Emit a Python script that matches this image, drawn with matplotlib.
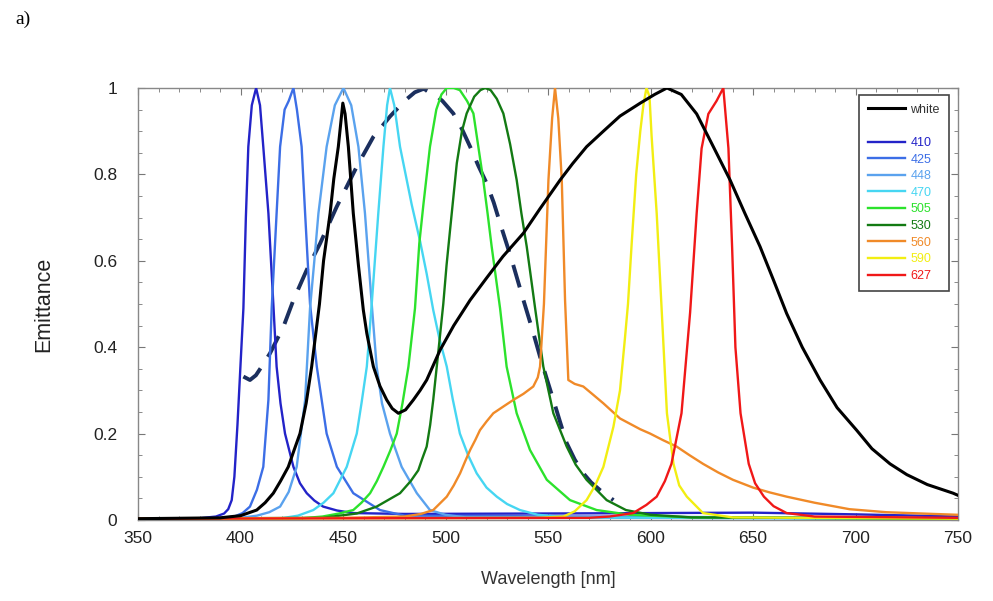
import matplotlib
matplotlib.use("Agg")
import matplotlib.pyplot as plt
from matplotlib.lines import Line2D
from matplotlib.ticker import MultipleLocator

# ---------------- data ----------------
wl_white = [350, 390, 400, 407.9, 412, 416, 419.5, 423.3, 426, 429, 432, 434.7, 438.5, 440.5, 443.7, 445.5, 447.7,
            449.9, 451, 452.6, 455, 457.5, 459.9, 461.6, 464.8, 468, 471.3, 474, 477, 480.5, 484.3, 487.6, 490.8,
            497.3, 504, 512, 520, 528, 538, 546, 555.9, 562, 568.8, 577, 585.1, 595, 602, 608, 615, 622.5, 630,
            638.8, 646, 653.4, 660, 666.4, 674, 682.7, 691, 700.5, 708, 716.8, 725, 735, 747.6, 750]
v_white = [0.003, 0.005, 0.01, 0.023, 0.04, 0.062, 0.09, 0.123, 0.16, 0.20, 0.27, 0.355, 0.50, 0.60, 0.71, 0.79,
           0.864, 0.965, 0.94, 0.864, 0.71, 0.59, 0.486, 0.432, 0.355, 0.31, 0.278, 0.258, 0.247, 0.255, 0.278, 0.30,
           0.324, 0.393, 0.45, 0.509, 0.56, 0.61, 0.664, 0.72, 0.787, 0.825, 0.864, 0.90, 0.935, 0.965, 0.985, 1.0,
           0.985, 0.94, 0.87, 0.787, 0.71, 0.633, 0.555, 0.478, 0.40, 0.324, 0.26, 0.208, 0.165, 0.13, 0.105, 0.082,
           0.062, 0.057]

wl_dash = [401.4, 404.6, 407.5, 410.3, 414.4, 420.9, 425.8, 432.3, 438.8, 446.9, 456.7, 464.8, 472.9, 480, 485,
           489.2, 494, 498.5, 503.8, 508, 512, 516, 520.1, 523.5, 526.6, 532.3, 538, 543, 546.1, 549.5, 552.6, 556,
           559.1, 563, 567.2, 571, 575.4, 581.9]
v_dash = [0.332, 0.324, 0.335, 0.355, 0.386, 0.447, 0.509, 0.579, 0.64, 0.725, 0.818, 0.887, 0.934, 0.97, 0.99,
          0.998, 0.988, 0.97, 0.941, 0.905, 0.864, 0.82, 0.779, 0.735, 0.687, 0.602, 0.509, 0.43, 0.378, 0.325,
          0.278, 0.225, 0.178, 0.14, 0.108, 0.087, 0.069, 0.046]

wl_410 = [350, 380, 388, 392, 394, 395.7, 397, 398.5, 400, 401.4, 402.6, 403.8, 405.5, 407.6, 409.5, 411.1, 413.6,
          416, 417.6, 419.5, 421.7, 425.8, 429, 432.3, 436, 440.3, 447, 455, 480, 550, 650, 700, 750]
v_410 = [0.003, 0.004, 0.008, 0.015, 0.025, 0.046, 0.10, 0.22, 0.36, 0.49, 0.70, 0.864, 0.96, 1.0, 0.96, 0.864,
         0.71, 0.50, 0.355, 0.27, 0.20, 0.123, 0.085, 0.062, 0.045, 0.031, 0.022, 0.016, 0.014, 0.015, 0.017, 0.013,
         0.008]

wl_425 = [350, 390, 397, 401, 404.6, 408, 411.1, 413.6, 415.2, 417.6, 419.3, 421.5, 423.5, 425.8, 427.5, 429.8,
          431.5, 433.9, 437.2, 442, 447, 455, 468, 480, 750]
v_425 = [0.003, 0.004, 0.008, 0.016, 0.031, 0.07, 0.123, 0.278, 0.49, 0.71, 0.864, 0.95, 0.97, 1.0, 0.95, 0.864,
         0.71, 0.50, 0.355, 0.20, 0.123, 0.062, 0.023, 0.01, 0.004]

wl_448 = [350, 400, 408, 414, 419.3, 423.5, 427.4, 431.5, 433.9, 436, 438, 442, 446, 450.2, 454, 457.5, 460.7, 464,
          466.4, 469, 472.9, 478.6, 486, 492.4, 500, 510, 750]
v_448 = [0.003, 0.005, 0.01, 0.018, 0.031, 0.065, 0.123, 0.278, 0.49, 0.60, 0.71, 0.864, 0.96, 1.0, 0.96, 0.864,
         0.71, 0.50, 0.355, 0.27, 0.20, 0.123, 0.062, 0.023, 0.012, 0.006, 0.003]

wl_470 = [350, 420, 428, 435.5, 440.5, 445.3, 451.8, 456.7, 459, 461.6, 464, 467.2, 469.7, 471.5, 472.9, 475,
          477.8, 483.5, 487.6, 490.8, 494, 497, 500.6, 503.5, 507, 511, 515.2, 520, 525, 530, 536.3, 545, 560, 750]
v_470 = [0.003, 0.004, 0.01, 0.023, 0.04, 0.062, 0.123, 0.20, 0.27, 0.355, 0.50, 0.71, 0.864, 0.96, 1.0, 0.96,
         0.864, 0.73, 0.645, 0.57, 0.486, 0.42, 0.355, 0.28, 0.20, 0.15, 0.108, 0.075, 0.054, 0.037, 0.023, 0.012,
         0.006, 0.003]

wl_505 = [350, 430, 440, 448, 455, 459, 463.2, 466.5, 469.7, 473, 476.2, 479, 481.9, 485.1, 487.2, 489.2, 492.4,
          495.5, 498, 500.6, 504, 507, 510.5, 513.6, 516, 518.4, 520.5, 522.5, 526.6, 529.8, 534.7, 541.2, 549.4,
          560.7, 573.7, 590, 620, 750]
v_505 = [0.003, 0.004, 0.008, 0.015, 0.023, 0.04, 0.062, 0.09, 0.123, 0.16, 0.20, 0.27, 0.355, 0.49, 0.64, 0.73,
         0.864, 0.95, 0.985, 1.0, 1.0, 0.995, 0.97, 0.941, 0.864, 0.787, 0.71, 0.633, 0.49, 0.355, 0.247, 0.162,
         0.093, 0.046, 0.023, 0.012, 0.006, 0.003]

wl_530 = [350, 440, 456.7, 466.4, 477.8, 483, 486.7, 488.5, 490.8, 492.5, 494, 496.5, 498.9, 500.5, 502.2, 505.5,
          508, 510.3, 514, 517, 519.3, 522, 525, 528.2, 531.5, 534.7, 537, 539.6, 541.7, 543.7, 547.7, 552.6, 559.1,
          563.5, 568.8, 578.6, 588, 600, 620, 750]
v_530 = [0.003, 0.005, 0.015, 0.031, 0.062, 0.09, 0.115, 0.14, 0.17, 0.22, 0.278, 0.39, 0.50, 0.59, 0.671, 0.826,
         0.90, 0.941, 0.98, 0.995, 1.0, 0.995, 0.975, 0.941, 0.87, 0.787, 0.71, 0.633, 0.56, 0.49, 0.355, 0.247,
         0.17, 0.128, 0.093, 0.046, 0.023, 0.012, 0.006, 0.003]

wl_560 = [350, 450, 480, 488, 494, 500.6, 504, 507.1, 509.5, 512, 514.5, 516.8, 520, 523.3, 528, 533.1, 538, 542.8,
          545, 546.1, 548, 550.2, 552, 553.4, 555, 556.7, 558.3, 559.9, 563, 567.2, 572, 577, 585.1, 595, 599.8,
          606, 612.7, 619, 625.6, 633, 640.2, 650, 658, 666.4, 680, 697, 715, 738, 750]
v_560 = [0.003, 0.005, 0.008, 0.014, 0.023, 0.054, 0.08, 0.108, 0.135, 0.162, 0.185, 0.208, 0.228, 0.247, 0.262,
         0.278, 0.292, 0.309, 0.33, 0.355, 0.50, 0.787, 0.93, 1.0, 0.93, 0.787, 0.509, 0.324, 0.315, 0.309, 0.29,
         0.27, 0.235, 0.21, 0.20, 0.185, 0.17, 0.15, 0.13, 0.11, 0.093, 0.075, 0.064, 0.054, 0.04, 0.025, 0.018,
         0.014, 0.012]

wl_590 = [350, 545, 557.5, 563, 568.8, 573, 577, 581.9, 585.1, 587.5, 589, 590.8, 593, 595, 596.5, 598, 599.5,
          600.5, 603, 605.5, 608, 611.2, 614, 617.7, 625.6, 640, 750]
v_590 = [0.003, 0.005, 0.008, 0.02, 0.046, 0.08, 0.123, 0.216, 0.30, 0.42, 0.50, 0.64, 0.80, 0.90, 0.96, 1.0,
         0.98, 0.89, 0.71, 0.48, 0.247, 0.13, 0.08, 0.054, 0.016, 0.006, 0.003]

wl_627 = [350, 570, 580, 591.5, 598, 603, 607, 610.2, 615.1, 619.3, 622.5, 624.9, 628.2, 632.2, 635.5, 638, 639.8,
          641.4, 643.9, 647.9, 651, 655.3, 660, 666.4, 680, 750]
v_627 = [0.003, 0.005, 0.008, 0.016, 0.035, 0.054, 0.09, 0.13, 0.247, 0.48, 0.71, 0.86, 0.94, 0.97, 1.0, 0.86,
         0.63, 0.40, 0.247, 0.13, 0.085, 0.054, 0.032, 0.016, 0.008, 0.005]

led_labels = ["410", "425", "448", "470", "505", "530", "560", "590", "627"]
led_colors = ["#2323c8", "#3c6ee6", "#5aa2ee", "#46d6f2", "#2ce22c", "#137a13", "#f08a28", "#f2ee12", "#f01818"]
led_wl = [wl_410, wl_425, wl_448, wl_470, wl_505, wl_530, wl_560, wl_590, wl_627]
led_v = [v_410, v_425, v_448, v_470, v_505, v_530, v_560, v_590, v_627]

x_ticks = [350, 400, 450, 500, 550, 600, 650, 700, 750]
y_ticks = [0, 0.2, 0.4, 0.6, 0.8, 1.0]
y_tick_labels = ["0", "0.2", "0.4", "0.6", "0.8", "1"]

# ---------------- figure ----------------
plt.rcParams['font.family'] = ['Liberation Sans', 'DejaVu Sans']
fig = plt.figure(figsize=(9.93, 6.01), dpi=100)
ax = fig.add_axes([0.139, 0.1348, 0.8258, 0.7188])

ax.plot(wl_dash, v_dash, color="#1b2f5e", lw=2.8, ls=(0, (6, 3.5)), zorder=2)
handles = []
for wl, v, c in zip(led_wl, led_v, led_colors):
    h, = ax.plot(wl, v, color=c, lw=1.7, zorder=3)
    handles.append(h)
hw, = ax.plot(wl_white, v_white, color="black", lw=2.2, zorder=4)

ax.set_xlim(350, 750)
ax.set_ylim(0, 1)
ax.set_xticks(x_ticks)
ax.set_yticks(y_ticks)
ax.set_yticklabels(y_tick_labels)
ax.xaxis.set_minor_locator(MultipleLocator(10))
ax.yaxis.set_minor_locator(MultipleLocator(0.05))
ax.tick_params(which="both", direction="in", top=True, right=True, colors="#777777",
               labelcolor="#222222", labelsize=12.5)
ax.tick_params(which="major", length=5, width=0.8)
ax.tick_params(which="minor", length=3, width=0.6)
ax.tick_params(axis="y", which="major", pad=15)
ax.tick_params(axis="x", which="major", pad=8)
for s in ax.spines.values():
    s.set_color("#888888")
    s.set_linewidth(1.0)

ax.set_xlabel("Wavelength [nm]", fontsize=13, color="#333333")
ax.set_ylabel("Emittance", fontsize=15.5, color="#222222")
ax.xaxis.set_label_coords(0.5, -0.118)
ax.yaxis.set_label_coords(-0.1024, 0.498)

blank = Line2D([], [], color="none")
leg = ax.legend([hw, blank] + handles, ["white", ""] + led_labels, loc="upper right",
                bbox_to_anchor=(0.9885, 0.984), fontsize=9, handlelength=3.0, handletextpad=0.4,
                labelspacing=0.37, borderpad=0.7, borderaxespad=0, fancybox=False, framealpha=1,
                edgecolor="#444444")
leg.get_frame().set_linewidth(1.2)
for t, c in zip(leg.get_texts(), ["#333333", "white"] + led_colors):
    t.set_color(c)

fig.text(0.015, 0.968, "a)", family=["Liberation Serif", "DejaVu Serif"], fontsize=14, va="center")

fig.savefig("out.png", dpi=100)
